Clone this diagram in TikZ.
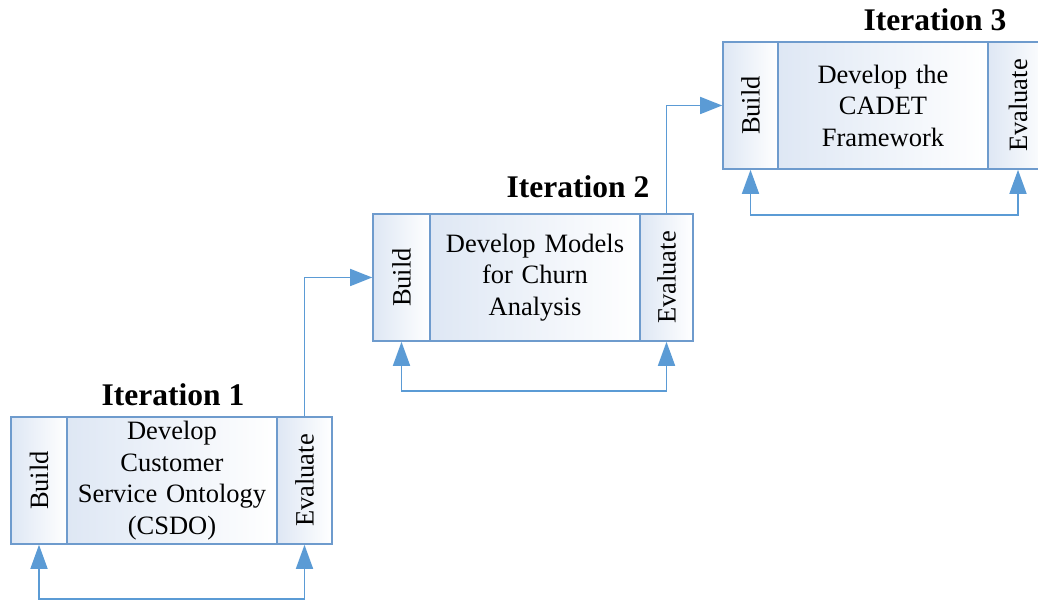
\documentclass[tikz,border=0pt]{standalone}
\usepackage{fontspec}
\setmainfont{Liberation Serif}
\usetikzlibrary{arrows.meta}
\definecolor{edge}{RGB}{110,155,205}
\definecolor{arr}{RGB}{91,155,213}
\definecolor{tint}{RGB}{222,231,244}
\tikzset{
  part/.style={draw=edge, line width=1.6pt, minimum height=127pt, inner sep=0pt,
    left color=tint, right color=white, font=\fontsize{26.5}{31.5}\selectfont},
  side/.style={part, rotate=90, minimum width=127pt},
  mainbox/.style={part, align=center, minimum width=210pt, text width=205pt},
  title/.style={font=\fontsize{31.5}{36}\selectfont\bfseries},
  conn/.style={draw=arr, line width=1.6pt, -{Triangle[length=22pt,width=17pt]}},
  loop/.style={draw=arr, line width=1.6pt, {Triangle[length=24pt,width=17pt]}-{Triangle[length=24pt,width=17pt]}}
}
\begin{document}
\begin{tikzpicture}[x=1pt,y=1pt]
\useasboundingbox (0,0) rectangle (1038,604);
% Iteration 1
\node[side, minimum height=56pt] (build1) at (39,123.5) {Build};
\node[mainbox] (main1) at (172,123.5) {Develop\\Customer\\Service Ontology\\(CSDO)};
\node[side, minimum height=55pt] (eval1) at (304.5,123.5) {Evaluate};
\node[title] (t1) at (173,209) {Iteration 1};
% Iteration 2
\node[side, minimum height=57pt] (build2) at (401.5,326.5) {Build};
\node[mainbox] (main2) at (535,326.5) {Develop Models\\for Churn\\Analysis};
\node[side, minimum height=53pt] (eval2) at (666.5,326.5) {Evaluate};
\node[title] (t2) at (578,417) {Iteration 2};
% Iteration 3
\node[side, minimum height=55pt] (build3) at (750.5,498.5) {Build};
\node[mainbox] (main3) at (883,498.5) {Develop the\\CADET\\Framework};
\node[side, minimum height=60pt] (eval3) at (1018,498.5) {Evaluate};
\node[title] (t3) at (935,584) {Iteration 3};
% feedback loops (rotated nodes: west = bottom, east = top)
\draw[loop] (build1.west) -- ++(0,-54) -| (eval1.west);
\draw[loop] (build2.west) -- ++(0,-49) -| (eval2.west);
\draw[loop] (build3.west) -- ++(0,-45) -| (eval3.west);
% connections between iterations
\draw[conn] (eval1.east) |- (build2.north);
\draw[conn] (eval2.east) |- (build3.north);
\end{tikzpicture}
\end{document}
